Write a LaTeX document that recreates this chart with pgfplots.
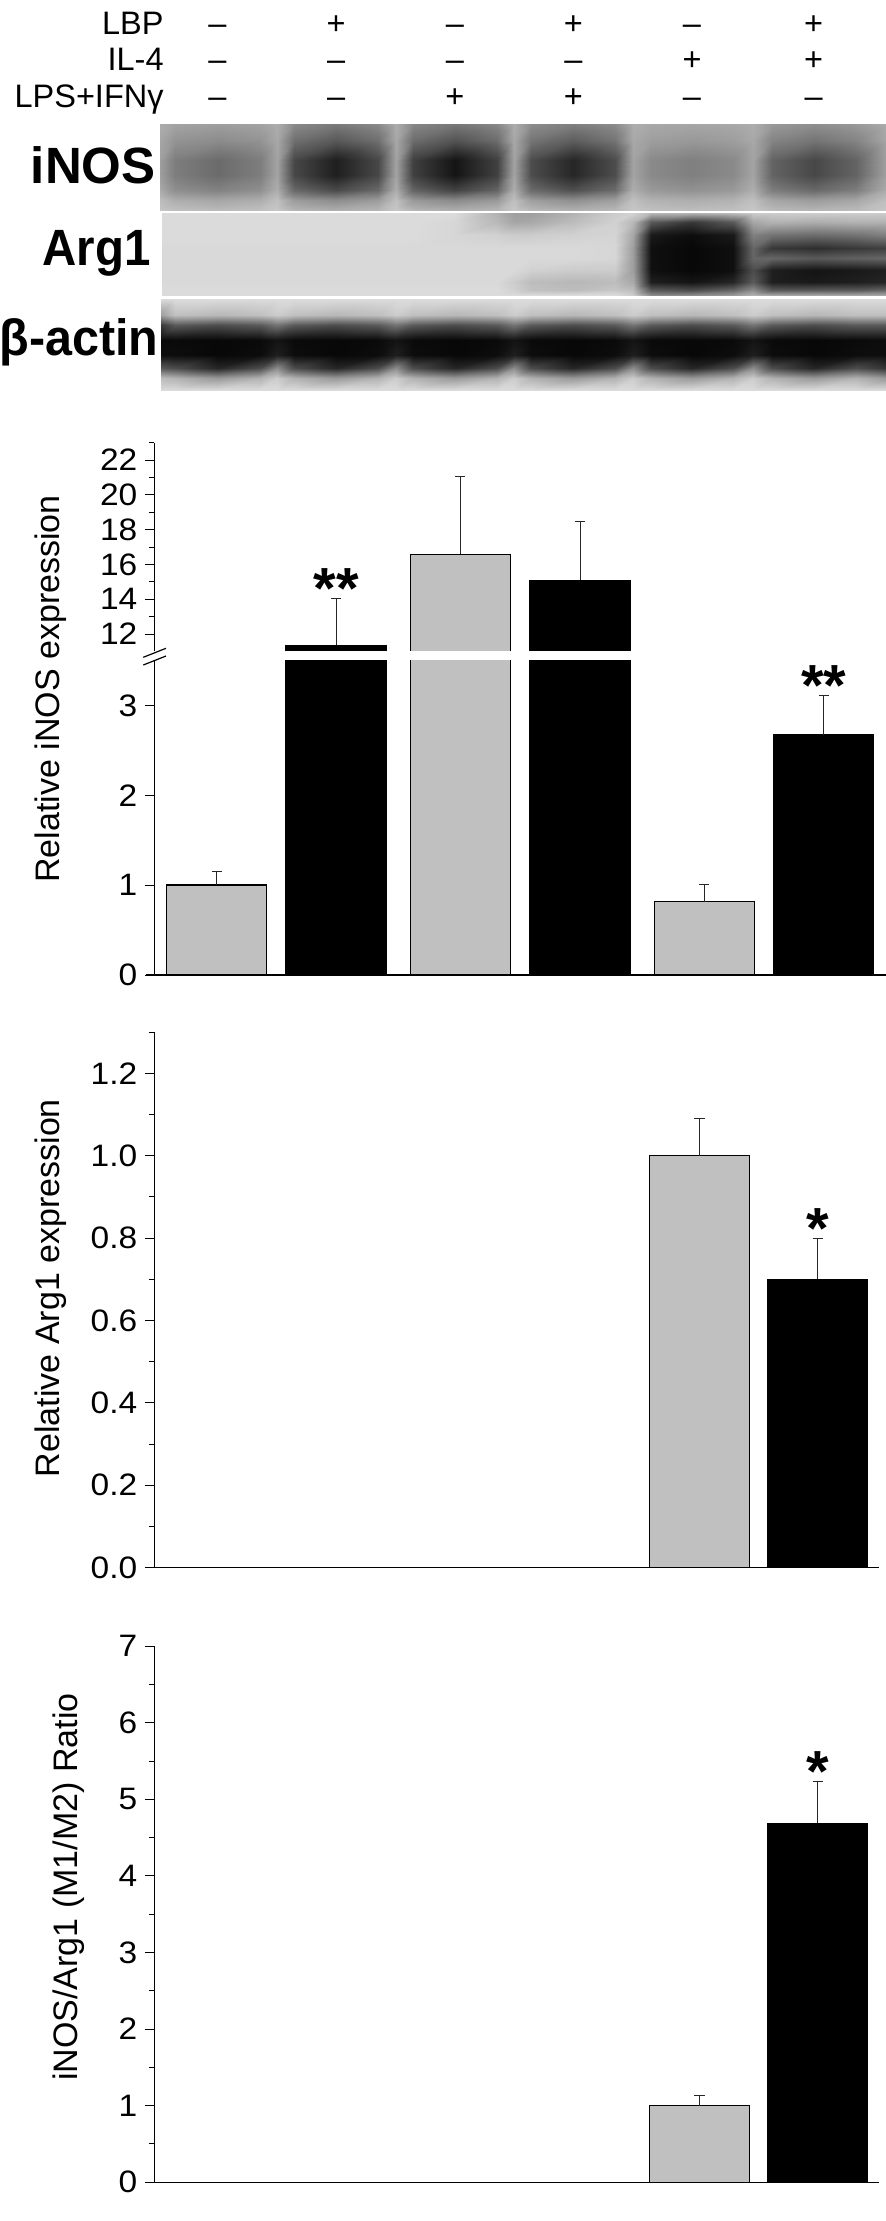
\documentclass[border=0pt]{standalone}
\usepackage{fontspec}
\setmainfont{Liberation Sans}
\usepackage{pgfplots}
\pgfplotsset{compat=1.18}
\definecolor{bargray}{RGB}{192,192,192}
\tikzset{star/.style={font=\bfseries\fontsize{29}{29}\selectfont, anchor=base, inner sep=0pt, yshift=-5pt}}
\pgfplotsset{
  barax/.style={scale only axis, anchor=south west,
    axis x line=bottom, axis y line=left,
    axis line style={-, line width=0.65pt, black},
    x axis line style={-}, y axis line style={-},
    xtick=\empty, tick align=outside,
    major tick length=4.7pt, minor tick length=2.5pt,
    tick style={line width=0.5pt, black},
    yticklabel style={font=\fontsize{15.5}{18}\selectfont, xscale=1.08},
    enlargelimits=false, clip=true},
  barbase/.style={ybar, bar width=100, bar shift=0pt, draw=black, line width=0.65pt,
    error bars/y dir=plus, error bars/y explicit,
    error bars/error bar style={line width=0.5pt, black!85},
    error bars/error mark options={rotate=90, mark size=2.6pt, line width=0.5pt, black!85}},
  graybar/.style={barbase, fill=bargray},
  blackbar/.style={barbase, fill=black},
  blot/.style={scale only axis, anchor=south west, hide axis, enlargelimits=false,
    y dir=reverse, colormap={bw}{gray(0cm)=(0); gray(1cm)=(1)},
    point meta min=0, point meta max=1},
  blotplot/.style={surf, shader=interp, mesh/cols=25, point meta=explicit},
}
\begin{document}
\begin{tikzpicture}
\useasboundingbox (0,0) rectangle (443pt,-1110.5pt);

% ---------- header ----------
\begin{scope}[every node/.style={inner sep=0pt, font=\fontsize{16.25}{18}\selectfont}]
\node[anchor=base east] at (82pt,-17.3pt) {LBP};
\node[anchor=base east] at (82pt,-35.4pt) {IL-4};
\node[anchor=base east] at (82pt,-53.7pt) {LPS+IFNγ};
\foreach \x/\s in {108.75/–,168.1/+,227.4/–,286.7/+,346/–,406.8/+}
  \node[anchor=base] at (\x pt,-17.3pt) {\s};
\foreach \x/\s in {108.75/–,168.1/–,227.4/–,286.7/–,346/+,406.8/+}
  \node[anchor=base] at (\x pt,-35.4pt) {\s};
\foreach \x/\s in {108.75/–,168.1/–,227.4/+,286.7/+,346/–,406.8/–}
  \node[anchor=base] at (\x pt,-53.7pt) {\s};
\end{scope}

% ---------- blot labels ----------
\begin{scope}[every node/.style={inner sep=0pt, anchor=base east, font=\bfseries\fontsize{25.5}{28}\selectfont}]
\node at (78pt,-91.65pt) {iNOS};
\node at (75.5pt,-132.5pt) {\scalebox{0.93}[1]{Arg1}};
\node at (79.5pt,-177.5pt) {\scalebox{0.95}[1]{β-actin}};
\end{scope}

% ---------- blots ----------
\begin{axis}[blot, at={(80pt,-105pt)}, width=363pt, height=43pt, xmin=160, xmax=886, ymin=124, ymax=210]
\addplot[blotplot] coordinates {
(158,124)[.68] (175,124)[.64] (217.5,124)[.62] (260,124)[.64] (277,124)[.68] (294,124)[.54] (336,124)[.48] (378,124)[.54] (395.5,124)[.68] (413,124)[.53] (455,124)[.47] (497,124)[.53] (514,124)[.68] (531,124)[.55] (573,124)[.50] (615,124)[.55] (633,124)[.68] (651,124)[.66] (692,124)[.65] (733,124)[.66] (753,124)[.68] (772,124)[.60] (814,124)[.56] (856,124)[.60] (888,124)[.68]
(158,140)[.66] (175,140)[.58] (217.5,140)[.55] (260,140)[.58] (277,140)[.66] (294,140)[.44] (336,140)[.35] (378,140)[.44] (395.5,140)[.66] (413,140)[.43] (455,140)[.33] (497,140)[.43] (514,140)[.66] (531,140)[.46] (573,140)[.37] (615,140)[.46] (633,140)[.66] (651,140)[.62] (692,140)[.60] (733,140)[.62] (753,140)[.66] (772,140)[.52] (814,140)[.46] (856,140)[.52] (888,140)[.66]
(158,160)[.64] (175,160)[.49] (217.5,160)[.42] (260,160)[.49] (277,160)[.64] (294,160)[.28] (336,160)[.12] (378,160)[.28] (395.5,160)[.64] (413,160)[.25] (455,160)[.08] (497,160)[.25] (514,160)[.64] (531,160)[.30] (573,160)[.15] (615,160)[.30] (633,160)[.64] (651,160)[.54] (692,160)[.50] (733,160)[.54] (753,160)[.64] (772,160)[.39] (814,160)[.28] (856,160)[.39] (888,160)[.64]
(158,175)[.64] (175,175)[.49] (217.5,175)[.42] (260,175)[.49] (277,175)[.64] (294,175)[.28] (336,175)[.12] (378,175)[.28] (395.5,175)[.64] (413,175)[.25] (455,175)[.08] (497,175)[.25] (514,175)[.64] (531,175)[.30] (573,175)[.15] (615,175)[.30] (633,175)[.64] (651,175)[.54] (692,175)[.50] (733,175)[.54] (753,175)[.64] (772,175)[.39] (814,175)[.28] (856,175)[.39] (888,175)[.64]
(158,190)[.68] (175,190)[.56] (217.5,190)[.51] (260,190)[.56] (277,190)[.68] (294,190)[.41] (336,190)[.29] (378,190)[.41] (395.5,190)[.68] (413,190)[.39] (455,190)[.26] (497,190)[.39] (514,190)[.68] (531,190)[.42] (573,190)[.31] (615,190)[.42] (633,190)[.68] (651,190)[.60] (692,190)[.57] (733,190)[.60] (753,190)[.68] (772,190)[.49] (814,190)[.41] (856,190)[.49] (888,190)[.68]
(158,200)[.75] (175,200)[.68] (217.5,200)[.65] (260,200)[.68] (277,200)[.75] (294,200)[.61] (336,200)[.55] (378,200)[.61] (395.5,200)[.75] (413,200)[.60] (455,200)[.54] (497,200)[.60] (514,200)[.75] (531,200)[.62] (573,200)[.56] (615,200)[.62] (633,200)[.75] (651,200)[.70] (692,200)[.68] (733,200)[.70] (753,200)[.75] (772,200)[.65] (814,200)[.61] (856,200)[.65] (888,200)[.75]
(158,210)[.78] (175,210)[.75] (217.5,210)[.73] (260,210)[.75] (277,210)[.78] (294,210)[.71] (336,210)[.68] (378,210)[.71] (395.5,210)[.78] (413,210)[.71] (455,210)[.68] (497,210)[.71] (514,210)[.78] (531,210)[.72] (573,210)[.69] (615,210)[.72] (633,210)[.78] (651,210)[.75] (692,210)[.74] (733,210)[.75] (753,210)[.78] (772,210)[.73] (814,210)[.71] (856,210)[.73] (888,210)[.78]
};
\end{axis}

\begin{axis}[blot, at={(81pt,-147.5pt)}, width=362pt, height=41pt, xmin=162, xmax=886, ymin=213, ymax=295]
\addplot[blotplot] coordinates {
(158,213)[.86] (175,213)[.86] (217.5,213)[.86] (260,213)[.86] (277,213)[.86] (294,213)[.86] (336,213)[.86] (378,213)[.86] (395.5,213)[.86] (413,213)[.86] (455,213)[.86] (497,213)[.70] (514,213)[.62] (531,213)[.62] (573,213)[.70] (615,213)[.80] (633,213)[.82] (651,213)[.72] (692,213)[.70] (733,213)[.74] (753,213)[.80] (772,213)[.80] (814,213)[.80] (856,213)[.80] (888,213)[.80]
(158,222)[.86] (175,222)[.86] (217.5,222)[.86] (260,222)[.86] (277,222)[.86] (294,222)[.86] (336,222)[.86] (378,222)[.86] (395.5,222)[.86] (413,222)[.86] (455,222)[.84] (497,222)[.72] (514,222)[.65] (531,222)[.66] (573,222)[.74] (615,222)[.82] (633,222)[.72] (651,222)[.35] (692,222)[.22] (733,222)[.35] (753,222)[.65] (772,222)[.70] (814,222)[.68] (856,222)[.70] (888,222)[.70]
(158,235)[.86] (175,235)[.86] (217.5,235)[.86] (260,235)[.86] (277,235)[.86] (294,235)[.86] (336,235)[.86] (378,235)[.86] (395.5,235)[.86] (413,235)[.86] (455,235)[.84] (497,235)[.82] (514,235)[.80] (531,235)[.80] (573,235)[.82] (615,235)[.83] (633,235)[.65] (651,235)[.10] (692,235)[.05] (733,235)[.10] (753,235)[.50] (772,235)[.45] (814,235)[.42] (856,235)[.45] (888,235)[.50]
(158,248)[.85] (175,248)[.85] (217.5,248)[.85] (260,248)[.85] (277,248)[.85] (294,248)[.85] (336,248)[.85] (378,248)[.85] (395.5,248)[.85] (413,248)[.85] (455,248)[.85] (497,248)[.85] (514,248)[.85] (531,248)[.85] (573,248)[.85] (615,248)[.84] (633,248)[.62] (651,248)[.06] (692,248)[.03] (733,248)[.06] (753,248)[.40] (772,248)[.22] (814,248)[.18] (856,248)[.22] (888,248)[.25]
(158,258)[.85] (175,258)[.85] (217.5,258)[.85] (260,258)[.85] (277,258)[.85] (294,258)[.85] (336,258)[.85] (378,258)[.85] (395.5,258)[.85] (413,258)[.85] (455,258)[.85] (497,258)[.85] (514,258)[.85] (531,258)[.85] (573,258)[.85] (615,258)[.84] (633,258)[.62] (651,258)[.06] (692,258)[.03] (733,258)[.06] (753,258)[.40] (772,258)[.40] (814,258)[.35] (856,258)[.38] (888,258)[.40]
(158,270)[.85] (175,270)[.85] (217.5,270)[.85] (260,270)[.85] (277,270)[.85] (294,270)[.85] (336,270)[.85] (378,270)[.85] (395.5,270)[.85] (413,270)[.85] (455,270)[.85] (497,270)[.85] (514,270)[.85] (531,270)[.82] (573,270)[.80] (615,270)[.80] (633,270)[.62] (651,270)[.06] (692,270)[.03] (733,270)[.06] (753,270)[.30] (772,270)[.12] (814,270)[.08] (856,270)[.10] (888,270)[.12]
(158,282)[.85] (175,282)[.85] (217.5,282)[.85] (260,282)[.85] (277,282)[.85] (294,282)[.85] (336,282)[.85] (378,282)[.85] (395.5,282)[.85] (413,282)[.85] (455,282)[.85] (497,282)[.85] (514,282)[.80] (531,282)[.74] (573,282)[.72] (615,282)[.74] (633,282)[.66] (651,282)[.12] (692,282)[.08] (733,282)[.15] (753,282)[.35] (772,282)[.12] (814,282)[.10] (856,282)[.12] (888,282)[.15]
(158,290)[.86] (175,290)[.86] (217.5,290)[.86] (260,290)[.86] (277,290)[.86] (294,290)[.86] (336,290)[.86] (378,290)[.86] (395.5,290)[.86] (413,290)[.86] (455,290)[.86] (497,290)[.86] (514,290)[.82] (531,290)[.76] (573,290)[.74] (615,290)[.78] (633,290)[.74] (651,290)[.35] (692,290)[.30] (733,290)[.40] (753,290)[.55] (772,290)[.35] (814,290)[.35] (856,290)[.35] (888,290)[.40]
(158,295)[.86] (175,295)[.86] (217.5,295)[.86] (260,295)[.86] (277,295)[.86] (294,295)[.86] (336,295)[.86] (378,295)[.86] (395.5,295)[.86] (413,295)[.86] (455,295)[.86] (497,295)[.86] (514,295)[.86] (531,295)[.86] (573,295)[.86] (615,295)[.86] (633,295)[.80] (651,295)[.55] (692,295)[.55] (733,295)[.60] (753,295)[.70] (772,295)[.65] (814,295)[.65] (856,295)[.65] (888,295)[.65]
};
\end{axis}

\begin{axis}[blot, at={(80.5pt,-195pt)}, width=362.5pt, height=45.5pt, xmin=161, xmax=886, ymin=299, ymax=390]
\addplot[blotplot] coordinates {
(158,299)[.86] (175,299)[.86] (217.5,299)[.86] (260,299)[.86] (277,299)[.86] (294,299)[.86] (336,299)[.86] (378,299)[.86] (395.5,299)[.86] (413,299)[.86] (455,299)[.86] (497,299)[.86] (514,299)[.86] (531,299)[.86] (573,299)[.86] (615,299)[.86] (633,299)[.86] (651,299)[.86] (692,299)[.86] (733,299)[.86] (753,299)[.86] (772,299)[.86] (814,299)[.86] (856,299)[.86] (888,299)[.86]
(158,315)[.60] (175,315)[.75] (217.5,315)[.72] (260,315)[.75] (277,315)[.80] (294,315)[.75] (336,315)[.72] (378,315)[.75] (395.5,315)[.80] (413,315)[.75] (455,315)[.72] (497,315)[.75] (514,315)[.80] (531,315)[.75] (573,315)[.72] (615,315)[.75] (633,315)[.80] (651,315)[.75] (692,315)[.72] (733,315)[.75] (753,315)[.80] (772,315)[.75] (814,315)[.72] (856,315)[.75] (888,315)[.75]
(158,325)[.20] (175,325)[.35] (217.5,325)[.30] (260,325)[.35] (277,325)[.45] (294,325)[.35] (336,325)[.30] (378,325)[.35] (395.5,325)[.45] (413,325)[.35] (455,325)[.30] (497,325)[.35] (514,325)[.45] (531,325)[.35] (573,325)[.30] (615,325)[.35] (633,325)[.45] (651,325)[.35] (692,325)[.30] (733,325)[.35] (753,325)[.45] (772,325)[.35] (814,325)[.30] (856,325)[.35] (888,325)[.35]
(158,340)[.03] (175,340)[.04] (217.5,340)[.03] (260,340)[.04] (277,340)[.08] (294,340)[.04] (336,340)[.03] (378,340)[.04] (395.5,340)[.08] (413,340)[.04] (455,340)[.03] (497,340)[.04] (514,340)[.08] (531,340)[.04] (573,340)[.03] (615,340)[.04] (633,340)[.08] (651,340)[.04] (692,340)[.03] (733,340)[.04] (753,340)[.08] (772,340)[.04] (814,340)[.03] (856,340)[.04] (888,340)[.05]
(158,355)[.05] (175,355)[.05] (217.5,355)[.03] (260,355)[.05] (277,355)[.12] (294,355)[.05] (336,355)[.03] (378,355)[.05] (395.5,355)[.12] (413,355)[.05] (455,355)[.03] (497,355)[.05] (514,355)[.12] (531,355)[.05] (573,355)[.03] (615,355)[.05] (633,355)[.12] (651,355)[.05] (692,355)[.03] (733,355)[.05] (753,355)[.12] (772,355)[.05] (814,355)[.03] (856,355)[.05] (888,355)[.05]
(158,368)[.35] (175,368)[.30] (217.5,368)[.15] (260,368)[.30] (277,368)[.55] (294,368)[.30] (336,368)[.15] (378,368)[.30] (395.5,368)[.55] (413,368)[.30] (455,368)[.15] (497,368)[.30] (514,368)[.55] (531,368)[.30] (573,368)[.15] (615,368)[.30] (633,368)[.55] (651,368)[.30] (692,368)[.15] (733,368)[.30] (753,368)[.55] (772,368)[.30] (814,368)[.15] (856,368)[.30] (888,368)[.20]
(158,378)[.75] (175,378)[.70] (217.5,378)[.60] (260,378)[.70] (277,378)[.80] (294,378)[.70] (336,378)[.60] (378,378)[.70] (395.5,378)[.80] (413,378)[.70] (455,378)[.60] (497,378)[.70] (514,378)[.80] (531,378)[.70] (573,378)[.60] (615,378)[.70] (633,378)[.80] (651,378)[.70] (692,378)[.60] (733,378)[.70] (753,378)[.80] (772,378)[.70] (814,378)[.60] (856,378)[.70] (888,378)[.60]
(158,390)[.86] (175,390)[.86] (217.5,390)[.86] (260,390)[.86] (277,390)[.86] (294,390)[.86] (336,390)[.86] (378,390)[.86] (395.5,390)[.86] (413,390)[.86] (455,390)[.86] (497,390)[.86] (514,390)[.86] (531,390)[.86] (573,390)[.86] (615,390)[.86] (633,390)[.86] (651,390)[.86] (692,390)[.86] (733,390)[.86] (753,390)[.86] (772,390)[.86] (814,390)[.86] (856,390)[.86] (888,390)[.86]
};
\end{axis}

% ---------- iNOS chart: lower segment ----------
\begin{axis}[barax, at={(77.15pt,-487.5pt)}, width=365.85pt, height=157.3pt,
  xmin=154.3, xmax=886, ymin=0, ymax=3.5, ytick={0,1,2,3}, yticklabels={0,1,2,3}]
\addplot[graybar] coordinates {(216.7,1.0) +- (0,0.153) (460.2,16.58) +- (0,4.49) (704.2,0.815) +- (0,0.194)};
\addplot[blackbar] coordinates {(336.1,11.35) +- (0,2.68) (580,15.09) +- (0,3.40) (823.8,2.67) +- (0,0.44)};
\node[star] at (axis cs:823.8,3.11) {**};
\end{axis}
% ---------- iNOS chart: upper segment ----------
\begin{axis}[barax, axis x line=none, at={(77.15pt,-325.7pt)}, width=365.85pt, height=104.4pt,
  xmin=154.3, xmax=886, ymin=11, ymax=23, ytick={12,14,16,18,20,22}, yticklabels={12,14,16,18,20,22},
  minor ytick={13,15,17,19,21,23}]
\addplot[graybar] coordinates {(216.7,1.0) +- (0,0.153) (460.2,16.58) +- (0,4.49) (704.2,0.815) +- (0,0.194)};
\addplot[blackbar] coordinates {(336.1,11.35) +- (0,2.68) (580,15.09) +- (0,3.40) (823.8,2.67) +- (0,0.44)};
\node[star] at (axis cs:336.1,14.03) {**};
\end{axis}
% white gap of the broken axis
\fill[white] (79pt,-325.3pt) rectangle (443pt,-330.05pt);
\draw[line width=0.6pt] (71.65pt,-328.65pt) -- (83pt,-324.15pt);
\draw[line width=0.6pt] (71.65pt,-332.5pt) -- (83pt,-328pt);
\draw[line width=0.65pt] (73pt,-487.5pt) -- (77.5pt,-487.5pt);
\node[rotate=90, anchor=base, inner sep=0pt, font=\fontsize{17}{20}\selectfont] at (29.5pt,-344.5pt) {Relative iNOS expression};

% ---------- Arg1 chart ----------
\begin{axis}[barax, at={(77.15pt,-783.75pt)}, width=362.1pt, height=267.6pt,
  xmin=154.3, xmax=878.5, ymin=0, ymax=1.3,
  ytick={0,0.2,0.4,0.6,0.8,1.0,1.2}, yticklabels={0.0,0.2,0.4,0.6,0.8,1.0,1.2},
  minor ytick={0.1,0.3,0.5,0.7,0.9,1.1,1.3}]
\addplot[graybar] coordinates {(699.5,1.0) +- (0,0.09)};
\addplot[blackbar] coordinates {(817.8,0.70) +- (0,0.10)};
\node[star] at (axis cs:817.8,0.80) {*};
\end{axis}
\draw[line width=0.65pt] (73pt,-783.75pt) -- (77.5pt,-783.75pt);
\node[rotate=90, anchor=base, inner sep=0pt, font=\fontsize{17}{20}\selectfont] at (29.5pt,-644pt) {Relative Arg1 expression};

% ---------- Ratio chart ----------
\begin{axis}[barax, at={(77.15pt,-1091.1pt)}, width=362.1pt, height=267.95pt,
  xmin=154.3, xmax=878.5, ymin=0, ymax=7,
  ytick={0,1,2,3,4,5,6,7}, yticklabels={0,1,2,3,4,5,6,7},
  minor ytick={0.5,1.5,2.5,3.5,4.5,5.5,6.5}]
\addplot[graybar] coordinates {(699.5,1.0) +- (0,0.13)};
\addplot[blackbar] coordinates {(817.8,4.69) +- (0,0.55)};
\node[star] at (axis cs:817.8,5.24) {*};
\end{axis}
\draw[line width=0.65pt] (73pt,-1091.1pt) -- (77.5pt,-1091.1pt);
\node[rotate=90, anchor=base, inner sep=0pt, font=\fontsize{17}{20}\selectfont] at (38.5pt,-943.5pt) {iNOS/Arg1 (M1/M2) Ratio};
\end{tikzpicture}
\end{document}
